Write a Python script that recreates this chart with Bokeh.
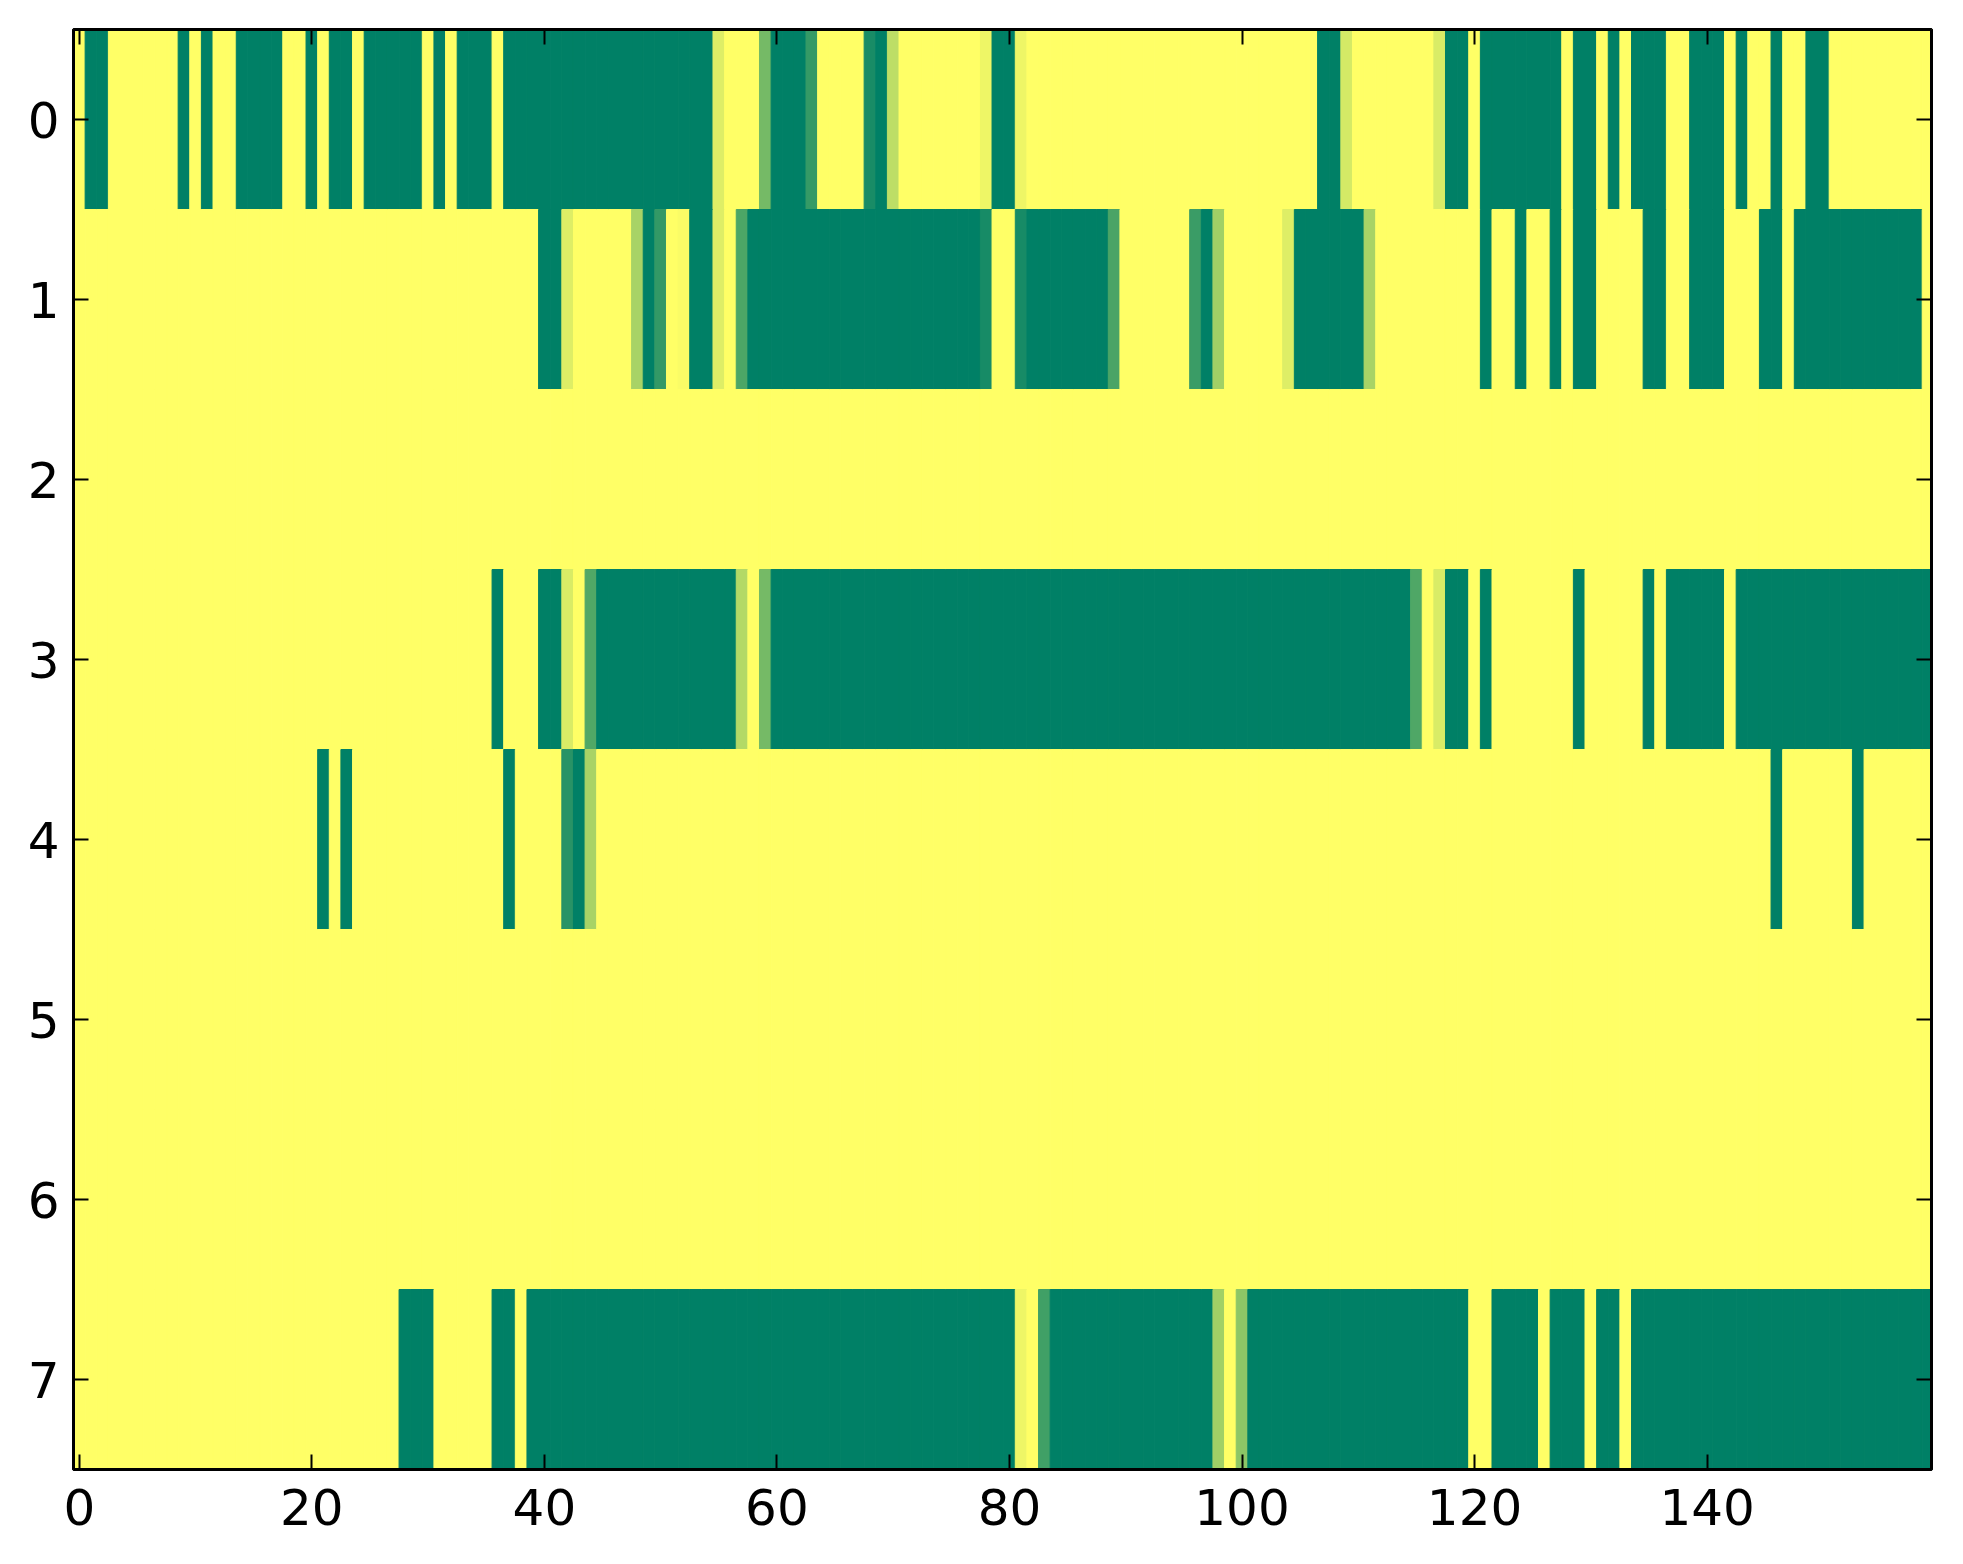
import numpy as np
from bokeh.plotting import figure
from bokeh.models import Range1d, FixedTicker, LinearAxis, LinearColorMapper, ColumnDataSource
from bokeh.transform import transform
from bokeh.embed import file_html
from bokeh.resources import INLINE

# ---- data: one list of 160 cell values per row (0 = green, 1 = yellow) ----
row_0 = [1, 0, 0, 1, 1, 1, 1, 1, 1, 0,
         1, 0, 1, 1, 0, 0, 0, 0, 1, 1,
         0, 1, 0, 0, 1, 0, 0, 0, 0, 0,
         1, 0, 1, 0, 0, 0, 1, 0, 0, 0,
         0, 0, 0, 0, 0, 0, 0, 0, 0, 0,
         0, 0, 0, 0, 0, .87, 1, 1, 1, .46,
         0, 0, 0, .21, 1, 1, 1, 1, .1, 0,
         .74, 1, 1, 1, 1, 1, 1, 1, .93, 0,
         0, .93, 1, 1, 1, 1, 1, 1, 1, 1,
         1, 1, 1, 1, 1, 1, 1, 1, 1, 1,
         1, 1, 1, 1, 1, 1, 1, 0, 0, .83,
         1, 1, 1, 1, 1, 1, 1, .85, 0, 0,
         1, 0, 0, 0, 0, 0, 0, 0, 1, 0,
         0, 1, 0, 1, 0, 0, 0, 1, 1, 0,
         0, 0, 1, 0, 1, 1, 0, 1, 1, 0,
         0, 1, 1, 1, 1, 1, 1, 1, 1, 1]

row_1 = [1, 1, 1, 1, 1, 1, 1, 1, 1, 1,
         1, 1, 1, 1, 1, 1, 1, 1, 1, 1,
         1, 1, 1, 1, 1, 1, 1, 1, 1, 1,
         1, 1, 1, 1, 1, 1, 1, 1, 1, 1,
         0, 0, .87, 1, 1, 1, 1, 1, .66, 0,
         .2, 1, .98, 0, 0, .87, 1, .3, 0, 0,
         0, 0, 0, 0, 0, 0, 0, 0, 0, 0,
         0, 0, 0, 0, 0, 0, 0, 0, .09, 1,
         1, .09, 0, 0, 0, 0, 0, 0, 0, .29,
         1, 1, 1, 1, 1, 1, .23, 0, .63, 1,
         1, 1, 1, 1, .87, 0, 0, 0, 0, 0,
         0, .66, 1, 1, 1, 1, 1, 1, 1, 1,
         1, 0, 1, 1, 0, 1, 1, 0, 1, 0,
         0, 1, 1, 1, 1, 0, 0, 1, 1, 0,
         0, 0, 1, 1, 1, 0, 0, 1, 0, 0,
         0, 0, 0, 0, 0, 0, 0, 0, 0, 1]

row_2 = [1, 1, 1, 1, 1, 1, 1, 1, 1, 1,
         1, 1, 1, 1, 1, 1, 1, 1, 1, 1,
         1, 1, 1, 1, 1, 1, 1, 1, 1, 1,
         1, 1, 1, 1, 1, 1, 1, 1, 1, 1,
         1, 1, 1, 1, 1, 1, 1, 1, 1, 1,
         1, 1, 1, 1, 1, 1, 1, 1, 1, 1,
         1, 1, 1, 1, 1, 1, 1, 1, 1, 1,
         1, 1, 1, 1, 1, 1, 1, 1, 1, 1,
         1, 1, 1, 1, 1, 1, 1, 1, 1, 1,
         1, 1, 1, 1, 1, 1, 1, 1, 1, 1,
         1, 1, 1, 1, 1, 1, 1, 1, 1, 1,
         1, 1, 1, 1, 1, 1, 1, 1, 1, 1,
         1, 1, 1, 1, 1, 1, 1, 1, 1, 1,
         1, 1, 1, 1, 1, 1, 1, 1, 1, 1,
         1, 1, 1, 1, 1, 1, 1, 1, 1, 1,
         1, 1, 1, 1, 1, 1, 1, 1, 1, 1]

row_3 = [1, 1, 1, 1, 1, 1, 1, 1, 1, 1,
         1, 1, 1, 1, 1, 1, 1, 1, 1, 1,
         1, 1, 1, 1, 1, 1, 1, 1, 1, 1,
         1, 1, 1, 1, 1, 1, 0, 1, 1, 1,
         0, 0, .85, 1, .32, 0, 0, 0, 0, 0,
         0, 0, 0, 0, 0, 0, 0, .7, 1, .46,
         0, 0, 0, 0, 0, 0, 0, 0, 0, 0,
         0, 0, 0, 0, 0, 0, 0, 0, 0, 0,
         0, 0, 0, 0, 0, 0, 0, 0, 0, 0,
         0, 0, 0, 0, 0, 0, 0, 0, 0, 0,
         0, 0, 0, 0, 0, 0, 0, 0, 0, 0,
         0, 0, 0, 0, 0, .31, 1, .85, 0, 0,
         1, 0, 1, 1, 1, 1, 1, 1, 1, 0,
         1, 1, 1, 1, 1, 0, 1, 0, 0, 0,
         0, 0, 1, 0, 0, 0, 0, 0, 0, 0,
         0, 0, 0, 0, 0, 0, 0, 0, 0, 0]

row_4 = [1, 1, 1, 1, 1, 1, 1, 1, 1, 1,
         1, 1, 1, 1, 1, 1, 1, 1, 1, 1,
         1, 0, 1, 0, 1, 1, 1, 1, 1, 1,
         1, 1, 1, 1, 1, 1, 1, 0, 1, 1,
         1, 1, .16, 0, .66, 1, 1, 1, 1, 1,
         1, 1, 1, 1, 1, 1, 1, 1, 1, 1,
         1, 1, 1, 1, 1, 1, 1, 1, 1, 1,
         1, 1, 1, 1, 1, 1, 1, 1, 1, 1,
         1, 1, 1, 1, 1, 1, 1, 1, 1, 1,
         1, 1, 1, 1, 1, 1, 1, 1, 1, 1,
         1, 1, 1, 1, 1, 1, 1, 1, 1, 1,
         1, 1, 1, 1, 1, 1, 1, 1, 1, 1,
         1, 1, 1, 1, 1, 1, 1, 1, 1, 1,
         1, 1, 1, 1, 1, 1, 1, 1, 1, 1,
         1, 1, 1, 1, 1, 1, 0, 1, 1, 1,
         1, 1, 1, 0, 1, 1, 1, 1, 1, 1]

row_5 = list(row_2)
row_6 = list(row_2)

row_7 = [1, 1, 1, 1, 1, 1, 1, 1, 1, 1,
         1, 1, 1, 1, 1, 1, 1, 1, 1, 1,
         1, 1, 1, 1, 1, 1, 1, 1, 0, 0,
         0, 1, 1, 1, 1, 1, 0, 0, 1, 0,
         0, 0, 0, 0, 0, 0, 0, 0, 0, 0,
         0, 0, 0, 0, 0, 0, 0, 0, 0, 0,
         0, 0, 0, 0, 0, 0, 0, 0, 0, 0,
         0, 0, 0, 0, 0, 0, 0, 0, 0, 0,
         0, .93, 1, .25, 0, 0, 0, 0, 0, 0,
         0, 0, 0, 0, 0, 0, 0, 0, .63, 1,
         .55, 0, 0, 0, 0, 0, 0, 0, 0, 0,
         0, 0, 0, 0, 0, 0, 0, 0, 0, 0,
         1, 1, 0, 0, 0, 0, 1, 0, 0, 0,
         1, 0, 0, 1, 0, 0, 0, 0, 0, 0,
         0, 0, 0, 0, 0, 0, 0, 0, 0, 0,
         0, 0, 0, 0, 0, 0, 0, 0, 0, 0]

rows = [row_0, row_1, row_2, row_3, row_4, row_5, row_6, row_7]
row_ids = [0, 1, 2, 3, 4, 5, 6, 7]
x_ticks = [0, 20, 40, 60, 80, 100, 120, 140]
x_tick_labels = ["0", "20", "40", "60", "80", "100", "120", "140"]
y_tick_labels = ["0", "1", "2", "3", "4", "5", "6", "7"]

# matplotlib "summer" colormap
palette = ['#%02x%02x%02x' % (int(round(255 * t)), int(round(255 * (0.5 + 0.5 * t))), 102)
           for t in np.linspace(0, 1, 256)]
mapper = LinearColorMapper(palette=palette, low=0, high=1)

xs, ys, vs = [], [], []
for r, row in zip(row_ids, rows):
    for c, v in enumerate(row):
        xs.append(c)
        ys.append(r)
        vs.append(v)
src = ColumnDataSource(dict(x=xs, y=ys, v=vs))

p = figure(frame_width=1858, frame_height=1440,
           x_range=Range1d(-0.5, 159.3), y_range=Range1d(7.5, -0.5),
           output_backend="svg", toolbar_location=None,
           x_axis_location=None, y_axis_location=None,
           min_border_left=73, min_border_right=16, min_border_top=29, min_border_bottom=72)
p.background_fill_color = "white"
p.border_fill_color = "white"
p.grid.visible = False
p.outline_line_color = "black"
p.outline_line_width = 3

p.rect('x', 'y', 1, 1, source=src,
       fill_color=transform('v', mapper), line_color=transform('v', mapper), line_width=1)

bottom_axis = LinearAxis(ticker=FixedTicker(ticks=x_ticks),
                         major_label_overrides={t: l for t, l in zip(x_ticks, x_tick_labels)})
left_axis = LinearAxis(ticker=FixedTicker(ticks=row_ids),
                       major_label_overrides={t: l for t, l in zip(row_ids, y_tick_labels)})
top_axis = LinearAxis(ticker=FixedTicker(ticks=x_ticks),
                      major_label_overrides={t: "" for t in x_ticks},
                      major_label_text_font_size="1px", major_label_standoff=0)
right_axis = LinearAxis(ticker=FixedTicker(ticks=row_ids),
                        major_label_overrides={t: "" for t in row_ids},
                        major_label_text_font_size="1px", major_label_standoff=0)
p.add_layout(bottom_axis, "below")
p.add_layout(left_axis, "left")
p.add_layout(top_axis, "above")
p.add_layout(right_axis, "right")

for ax in [bottom_axis, left_axis, top_axis, right_axis]:
    ax.axis_line_width = 3
    ax.axis_line_color = "black"
    ax.major_tick_in = 15
    ax.major_tick_out = 0
    ax.major_tick_line_width = 2
    ax.major_tick_line_color = "black"
    ax.minor_tick_line_color = None

for ax in [bottom_axis, left_axis]:
    ax.major_label_text_font = "DejaVu Sans"
    ax.major_label_text_font_size = "50px"
    ax.major_label_text_color = "black"
bottom_axis.major_label_standoff = 19
left_axis.major_label_standoff = 14

open("out.html", "w").write(file_html(p, INLINE))
